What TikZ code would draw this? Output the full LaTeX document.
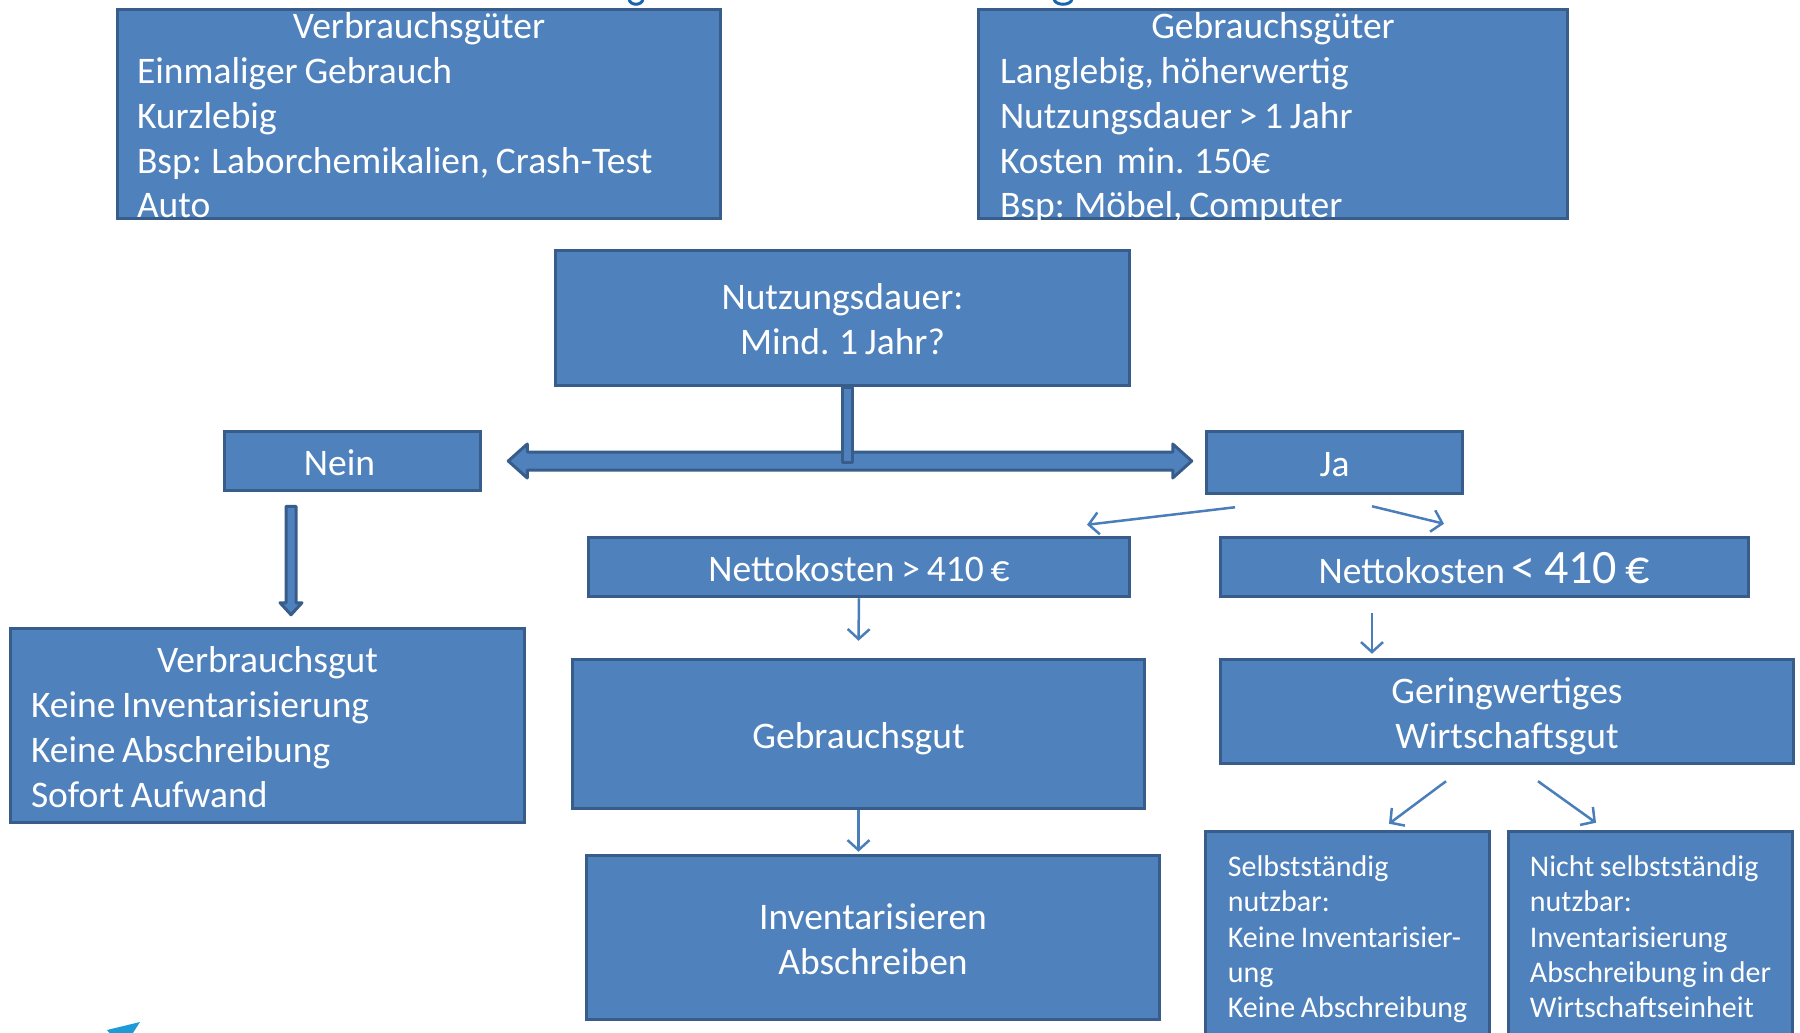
\documentclass[tikz,border=0pt]{standalone}
\usepackage{fontspec}
\setmainfont{Carlito}[WordSpace=0.8]
\usetikzlibrary{calc,arrows.meta}
\definecolor{boxfill}{HTML}{4F81BD}
\definecolor{boxline}{HTML}{385D8A}
\definecolor{arrowline}{HTML}{4A7EBB}
\definecolor{logoblue}{HTML}{1E9BD7}
\definecolor{titleblue}{HTML}{1A66AE}
% text block whose first baseline lies #1 above the node centre
\newcommand{\tblock}[3]{\raisebox{#1}[0pt][0pt]{\begin{tabular}[t]{@{}#2@{}}#3\end{tabular}}}
\newcommand{\wblock}[3]{\raisebox{#1}[0pt][0pt]{\begin{minipage}[t]{#2}\raggedright #3\end{minipage}}}
\newcommand{\oneline}[2]{\raisebox{#1}[0pt][0pt]{#2}}
\newcommand{\boxtitle}[1]{\makebox[\linewidth]{#1}}
\begin{document}
\begin{tikzpicture}[x=1pt,y=-1pt,
  gbox/.style={draw=boxline, line width=3.5pt, fill=boxfill, text=white, inner sep=0pt,
    font=\fontsize{37.5pt}{45pt}\selectfont},
  smallbox/.style={gbox, font=\fontsize{30pt}{35.3pt}\selectfont},
  blockarrow/.style={draw=boxline, line width=3pt, fill=boxfill, line join=round},
  thinarrow/.style={draw=arrowline, line width=2.5pt, -{Straight Barb[length=10pt,width=22pt]}}]
\useasboundingbox (0,0) rectangle (1800,1033);

% fragments at the picture edges
\draw[titleblue, line width=3pt] (629,-1) .. controls (630,6) and (642,6) .. (643,-1);
\draw[titleblue, line width=3pt] (1054,-1) .. controls (1055,6) and (1071,6) .. (1072,-1);
\fill[logoblue] (107,1030) -- (140,1022) -- (131,1036) -- (112,1036) -- cycle;

% boxes
\node[gbox, minimum width=603pt, minimum height=209pt] (vg) at (419,114)
  {\wblock{76pt}{564pt}{\boxtitle{Verbrauchsgüter}\\Einmaliger Gebrauch\\Kurzlebig\\Bsp: Laborchemikalien, Crash-Test\\Auto}};
\node[gbox, minimum width=589pt, minimum height=209pt] (gg) at (1273,114)
  {\wblock{76pt}{546pt}{\boxtitle{Gebrauchsgüter}\\Langlebig, höherwertig\\Nutzungsdauer > 1 Jahr\\Kosten~ min. 150€\\Bsp: Möbel, Computer}};
\node[gbox, minimum width=574pt, minimum height=135pt] (nd) at (842.5,318)
  {\tblock{8.5pt}{c}{Nutzungsdauer:\\Mind. 1 Jahr?}};
\node[gbox, minimum width=256pt, minimum height=59pt] (nein) at (352.5,461) {\oneline{-14pt}{Nein}\kern26pt};
\node[gbox, minimum width=256pt, minimum height=62pt] (ja) at (1334.5,462.5) {\oneline{-14pt}{Ja}};
\node[gbox, minimum width=541pt, minimum height=59pt] (n1) at (859,567) {\oneline{-14pt}{Nettokosten > 410 €}};
\node[gbox, minimum width=528pt, minimum height=59pt] (n2) at (1484.5,567)
  {\oneline{-16pt}{Nettokosten {\fontsize{48pt}{50pt}\selectfont< 410 €}}};
\node[gbox, minimum width=514pt, minimum height=194pt] (vgut) at (267.5,725.5)
  {\wblock{53.5pt}{473pt}{\boxtitle{Verbrauchsgut}\\Keine Inventarisierung\\Keine Abschreibung\\Sofort Aufwand}};
\node[gbox, minimum width=572pt, minimum height=149pt] (gbg) at (858.5,734) {\oneline{-14pt}{Gebrauchsgut}};
\node[gbox, minimum width=573pt, minimum height=164pt] (inv) at (873,937.5)
  {\tblock{8.5pt}{c}{Inventarisieren\\Abschreiben}};
\node[gbox, minimum width=573pt, minimum height=104pt] (gwg) at (1507,711.5)
  {\tblock{8.5pt}{c}{Geringwertiges\\Wirtschaftsgut}};
\node[smallbox, minimum width=284pt, minimum height=209pt] (sb) at (1347.5,936)
  {\tblock{59.4pt}{l}{Selbstständig\\nutzbar:\\Keine Inventarisier-\\ung\\Keine Abschreibung}};
\node[smallbox, minimum width=284pt, minimum height=209pt] (ns) at (1650.5,936)
  {\tblock{59.4pt}{l}{Nicht selbstständig\\nutzbar:\\Inventarisierung\\Abschreibung in der\\Wirtschaftseinheit}};

% double block arrow Nein <-> Ja
\coordinate (dl) at ([xshift=26pt]nein.east);
\coordinate (dr) at ([xshift=-13pt]ja.west |- dl);
\path[blockarrow] (dl) -- ++(19,-17) -- ++(0,8) -- ($(dr)+(-19,-9)$) -- ++(0,-8) -- (dr)
  -- ++(-19,17) -- ++(0,-8) -- ($(dl)+(19,9)$) -- ++(0,8) -- cycle;
% stem from Nutzungsdauer
\coordinate (st) at ($(nd.south)+(4.5,0)$);
\path[blockarrow] ($(st)+(-5,0)$) rectangle ($(st |- dl)+(5,1)$);

% block arrow Nein -> Verbrauchsgut
\coordinate (at) at ($(nein.south)+(-61.5,14)$);
\coordinate (ab) at ($(vgut.north)+(23.5,-12)$);
\path[blockarrow] ($(at)+(-5,0)$) -- ($(at)+(5,0)$) -- ($(ab)+(5,-12)$) -- ($(ab)+(11,-12)$) -- (ab)
  -- ($(ab)+(-11,-12)$) -- ($(ab)+(-5,-12)$) -- cycle;

% thin arrows
\draw[thinarrow] ($(ja.south)+(-99.5,12)$) -- ($(n1.north)+(228,-11)$);
\draw[thinarrow] ($(ja.south)+(37.5,11)$) -- ($(n2.north)+(-40.5,-12)$);
\draw[thinarrow] (n1.south) -- ($(gbg.north)+(0,-17)$);
\draw[thinarrow] (gbg.south) -- ($(inv.north)+(-14.5,-2)$);
\draw[thinarrow] ($(n2.south)+(-112.5,15)$) -- ($(gwg.north)+(-135,-4)$);
\draw[thinarrow] ($(gwg.south)+(-61,16)$) -- ($(sb.north)+(41.5,-6)$);
\draw[thinarrow] ($(gwg.south)+(31,16)$) -- ($(ns.north)+(-54.5,-7)$);
\end{tikzpicture}
\end{document}
